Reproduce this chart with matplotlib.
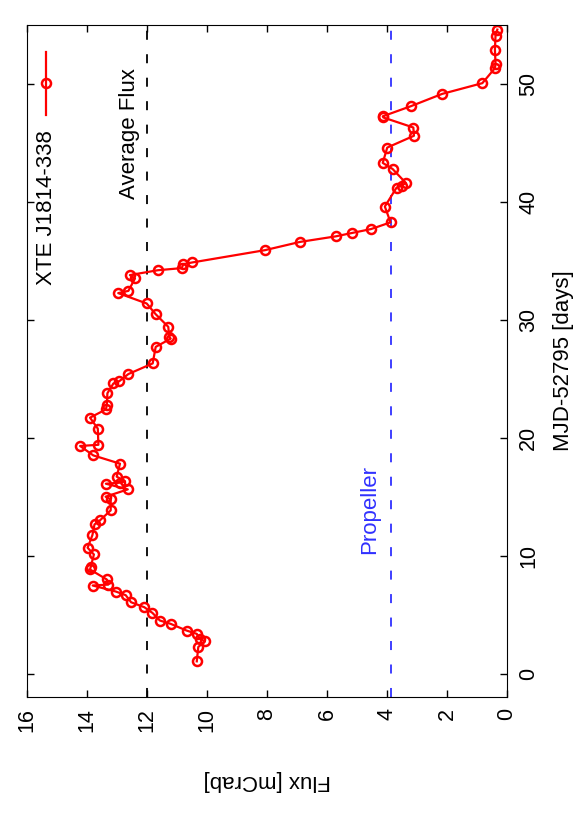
import numpy as np
import matplotlib
matplotlib.use('Agg')
import matplotlib.pyplot as plt

plt.rcParams['font.family'] = ['Liberation Sans', 'DejaVu Sans']

# ── Data ──────────────────────────────────────────────────────────────────────
mjd = [1.04, 2.26, 2.74, 2.94, 3.37, 3.65, 4.22, 4.50, 5.15, 5.63,
       6.05, 6.65, 6.96, 7.47, 7.55, 7.98, 8.83, 9.00, 10.10, 10.67,
       11.74, 12.65, 12.99, 13.84, 14.77, 15.00, 15.62, 16.10, 16.19, 16.30,
       16.70, 17.80, 18.50, 19.30, 19.40, 20.77, 21.70, 22.40, 22.75, 23.77,
       24.60, 24.80, 25.40, 26.30, 27.70, 28.40, 28.58, 29.40, 30.47, 31.38,
       32.26, 32.45, 33.50, 33.79, 34.20, 34.38, 34.72, 34.86, 35.90, 36.60,
       37.07, 37.35, 37.69, 38.26, 39.60, 41.20, 41.37, 41.60, 42.78, 43.30,
       44.60, 45.60, 46.30, 47.15, 47.25, 48.10, 49.15, 50.06, 51.33, 51.70,
       52.90, 54.10, 54.60]
flux = [10.34, 10.29, 10.07, 10.23, 10.34, 10.68, 11.21, 11.57, 11.82, 12.09,
        12.53, 12.71, 13.04, 13.81, 13.29, 13.34, 13.90, 13.88, 13.77, 13.98,
        13.82, 13.75, 13.57, 13.21, 13.21, 13.38, 12.64, 13.37, 12.90, 12.73,
        13.01, 12.90, 13.79, 14.23, 13.62, 13.64, 13.90, 13.37, 13.34, 13.32,
        13.12, 12.92, 12.62, 11.81, 11.71, 11.21, 11.26, 11.29, 11.71, 12.01,
        12.96, 12.62, 12.40, 12.57, 11.64, 10.84, 10.79, 10.49, 8.07, 6.90,
        5.71, 5.18, 4.53, 3.88, 4.07, 3.68, 3.51, 3.37, 3.81, 4.14,
        3.99, 3.10, 3.12, 4.12, 4.14, 3.21, 2.16, 0.82, 0.40, 0.38,
        0.40, 0.38, 0.32]

avg_flux = 12.0
propeller_flux = 3.88
flux_ticks = [0, 2, 4, 6, 8, 10, 12, 14, 16]
mjd_ticks = [0, 10, 20, 30, 40, 50]

# ── Plot (drawn in the rotated orientation) ───────────────────────────────────
fig = plt.figure(figsize=(5.81, 8.30), dpi=100)
ax = fig.add_axes([0.0465, 0.160, 0.826, 0.810])

ax.axvline(avg_flux, color='black', lw=1.3, dashes=(5, 8))
ax.axvline(propeller_flux, color='#3030ff', lw=1.3, dashes=(5, 8))

ax.plot(flux, mjd, color='red', lw=1.6, marker='o', ms=6.5,
        mfc='none', mec='red', mew=1.8)

ax.set_xlim(16, 0)
ax.set_ylim(-2, 55)
ax.set_xticks(flux_ticks)
ax.set_yticks(mjd_ticks)
ax.yaxis.tick_right()
ax.tick_params(direction='in', length=5, width=1, top=True, bottom=True,
               left=True, right=True, labelsize=15.5, pad=8)
for lab in ax.get_xticklabels():
    lab.set_rotation(90)
for lab in ax.get_yticklabels():
    lab.set_rotation(90)
    lab.set_va('center')

ax.set_xlabel('Flux [mCrab]', fontsize=16, rotation=180, labelpad=27)
ax.yaxis.set_label_position('right')
ax.set_ylabel('MJD-52795 [days]', fontsize=16, rotation=90, labelpad=10)

ax.text(12.57, 45.8, 'Average Flux', rotation=90, fontsize=16,
        ha='center', va='center')
ax.text(4.57, 10.1, 'Propeller', rotation=90, fontsize=16,
        color='#3030ff', ha='center', va='bottom')

# legend, drawn by hand so it can be rotated
ax.plot([0.0396, 0.0396], [0.866, 0.960], transform=ax.transAxes,
        color='red', lw=1.6)
ax.plot([0.0396], [0.914], transform=ax.transAxes, color='red',
        marker='o', ms=6.5, mfc='none', mew=1.8)
ax.text(0.0396, 0.844, 'XTE J1814-338', rotation=90, fontsize=16,
        transform=ax.transAxes, ha='center', va='top')

fig.savefig('out.png', dpi=100)
